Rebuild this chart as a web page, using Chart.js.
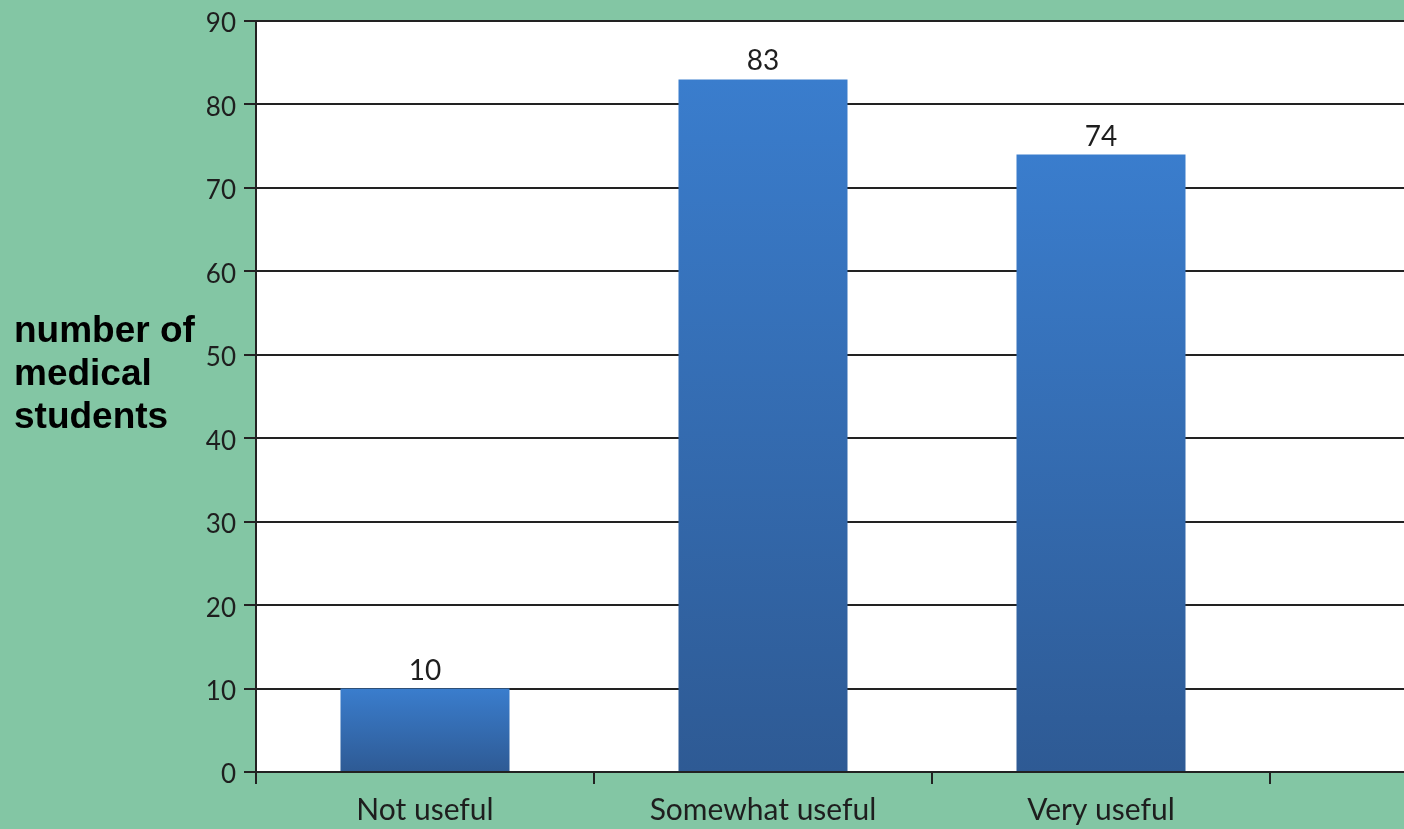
<!DOCTYPE html>
<html>
<head>
<meta charset="utf-8">
<script src="https://cdn.jsdelivr.net/npm/chart.js@4.4.1/dist/chart.umd.min.js"></script>
<style>
  html, body { margin: 0; padding: 0; background: #83c6a4; overflow: hidden; width: 1404px; height: 829px; }
  #wrap { position: absolute; left: 0; top: 0; width: 1608px; height: 829px; }
  #ytitle {
    position: absolute; left: 14px; top: 308px;
    font-family: 'Liberation Sans', Arial, sans-serif; font-weight: bold;
    font-size: 37px; line-height: 43px; color: #000;
  }
</style>
</head>
<body>
<div id="wrap"><canvas id="chart"></canvas></div>
<div id="ytitle">number of<br>medical<br>students</div>
<script>
/* Usefulness rating — number of medical students */

const CATEGORIES = ['Not useful', 'Somewhat useful', 'Very useful', ''];
const STUDENTS = [10, 83, 74, null];
const Y_MIN = 0, Y_MAX = 90, Y_STEP = 10;

const INK = '#1e1e1e';
const LINE = '#222222';
const BAR_TOP = '#3a7dcd';
const BAR_BOTTOM = '#2e5a94';
const FONT = "Lato, 'Open Sans', sans-serif";

function barGradient(c) {
  const chart = c.chart;
  const v = c.raw;
  if (!chart.chartArea || v == null) return BAR_TOP;
  const y = chart.scales.y;
  const g = chart.ctx.createLinearGradient(0, y.getPixelForValue(v), 0, y.getPixelForValue(0));
  g.addColorStop(0, BAR_TOP);
  g.addColorStop(1, BAR_BOTTOM);
  return g;
}

// white plot area behind the grid
const plotBackground = {
  id: 'plotBackground',
  beforeDraw(chart) {
    const a = chart.chartArea;
    chart.ctx.save();
    chart.ctx.fillStyle = '#ffffff';
    chart.ctx.fillRect(a.left, a.top, a.right - a.left, a.bottom - a.top);
    chart.ctx.restore();
  }
};

// value labels above each bar
const valueLabels = {
  id: 'valueLabels',
  afterDatasetsDraw(chart) {
    const ctx = chart.ctx;
    const meta = chart.getDatasetMeta(0);
    ctx.save();
    ctx.font = '28px ' + FONT;
    ctx.fillStyle = INK;
    ctx.textAlign = 'center';
    ctx.textBaseline = 'middle';
    meta.data.forEach((bar, i) => {
      if (STUDENTS[i] == null) return;
      ctx.fillText(String(STUDENTS[i]), bar.x, bar.y - 18);
    });
    ctx.restore();
  }
};

new Chart(document.getElementById('chart'), {
  type: 'bar',
  data: {
    labels: CATEGORIES,
    datasets: [{
      data: STUDENTS,
      backgroundColor: barGradient,
      borderWidth: 0,
      categoryPercentage: 1,
      barPercentage: 0.5,
    }]
  },
  options: {
    responsive: true,
    maintainAspectRatio: false,
    animation: false,
    layout: { padding: { top: 20, left: 0, right: 0, bottom: 0 } },
    plugins: { legend: { display: false }, tooltip: { enabled: false } },
    scales: {
      x: {
        afterFit: s => { s.height = 57; },
        grid: { drawOnChartArea: false, offset: true, tickLength: 12, color: LINE, lineWidth: 2 },
        border: { color: LINE, width: 2 },
        ticks: { color: INK, font: { family: FONT, size: 30 }, padding: 8 }
      },
      y: {
        min: Y_MIN,
        max: Y_MAX,
        afterFit: s => { s.width = 256; },
        grid: { color: LINE, lineWidth: 2, tickLength: 12 },
        border: { color: LINE, width: 2 },
        ticks: { stepSize: Y_STEP, color: INK, font: { family: FONT, size: 26, lineHeight: 1 }, padding: 8, labelOffset: 3 }
      }
    }
  },
  plugins: [plotBackground, valueLabels]
});
</script>
</body>
</html>
